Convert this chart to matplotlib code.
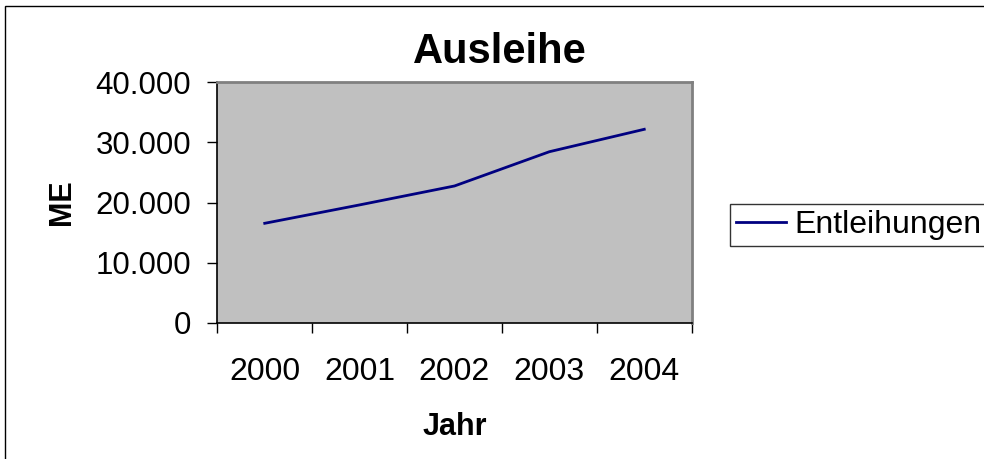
import matplotlib
matplotlib.use("Agg")
import matplotlib.pyplot as plt
from matplotlib.patches import Rectangle
from matplotlib.ticker import FuncFormatter, FixedLocator

plt.rcParams['font.family'] = ['Liberation Sans', 'DejaVu Sans']

years = ["2000", "2001", "2002", "2003", "2004"]
entleihungen = [16540, 19600, 22750, 28450, 32180]
y_ticks = [0, 10000, 20000, 30000, 40000]

W, H = 984, 459
fig = plt.figure(figsize=(W / 100, H / 100), dpi=100)
fig.patch.set_facecolor("white")

L, R, T, B = 217.3, 691.7, 82.3, 322.7
ax = fig.add_axes([L / W, 1 - B / H, (R - L) / W, (B - T) / H])
ax.set_facecolor("#C0C0C0")

xs = [i + 0.5 for i in range(len(years))]
line, = ax.plot(xs, entleihungen, color="#000080", lw=2.0, label="Entleihungen")

ax.set_xlim(0, len(years))
ax.set_ylim(0, 40000)

ax.xaxis.set_major_locator(FixedLocator(list(range(len(years) + 1))))
ax.xaxis.set_major_formatter(FuncFormatter(lambda v, p: ""))
ax.set_xticks(xs, minor=True)
ax.set_xticklabels(years, minor=True)
ax.tick_params(axis="x", which="major", direction="out", length=7, width=1, color="black")
ax.tick_params(axis="x", which="minor", length=0, pad=25, labelsize=23)

ax.set_yticks(y_ticks)
ax.yaxis.set_major_formatter(FuncFormatter(lambda v, p: f"{int(v):,}".replace(",", ".")))
ax.tick_params(axis="y", direction="out", length=7, width=1, color="black", pad=12, labelsize=22.5)

for s in ["top", "right"]:
    ax.spines[s].set_color("#808080")
    ax.spines[s].set_linewidth(2)
for s in ["left", "bottom"]:
    ax.spines[s].set_color("black")
    ax.spines[s].set_linewidth(1.2)

ax.set_ylabel("ME", fontsize=22, fontweight="bold")
ax.yaxis.set_label_coords(-0.296, 0.5)
ax.set_xlabel("Jahr", fontsize=22, fontweight="bold")
ax.xaxis.set_label_coords(0.5, -0.37)

fig.text(500 / W, 1 - 52 / H, "Ausleihe", fontsize=30, fontweight="bold",
         ha="center", va="center")

leg = fig.legend(handles=[line], loc="center left", bbox_to_anchor=(730 / W, 1 - 225 / H),
                 fontsize=23, frameon=True, fancybox=False, handlelength=1.56,
                 handletextpad=0.25, borderpad=0.2, borderaxespad=0)
leg.get_frame().set_edgecolor("black")
leg.get_frame().set_linewidth(1)

fig.add_artist(Rectangle((4.5 / W, -0.05), 1.2, 1 - 6 / H + 0.05, transform=fig.transFigure,
                         fill=False, edgecolor="black", lw=1))

fig.savefig("out.png", dpi=100)
